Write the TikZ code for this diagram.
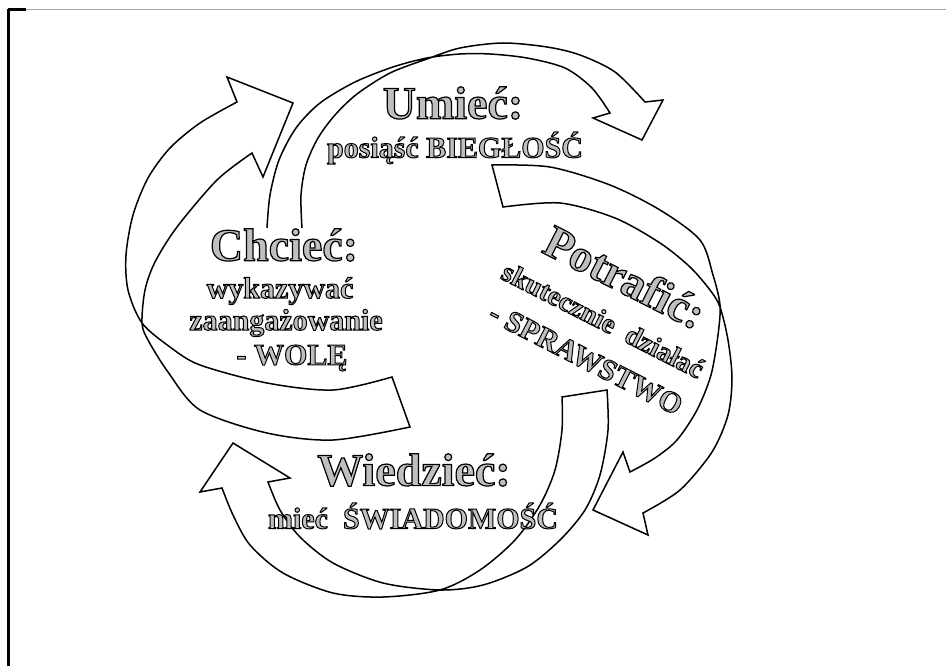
\documentclass[tikz,border=0pt]{standalone}
\usepackage{fontspec}
\setmainfont{Liberation Serif}

% gray letters with a black outline (fill and stroke text)
\newcommand{\hollow}[2][1]{{\color{gray!50}\special{pdf:literal direct 0 G #1 w 2 Tr}#2\special{pdf:literal direct 0 Tr}}}

\begin{document}
\begin{tikzpicture}[
        x=1pt, y=-1pt,
        ribbon/.style={line width=1.5pt, line join=miter},
        big/.style={font=\bfseries\fontsize{46}{46}\selectfont, inner sep=0pt},
        small/.style={font=\bfseries\fontsize{30}{30}\selectfont, inner sep=0pt}
    ]
    \useasboundingbox (0,0) rectangle (946,666);

    % Frame
    \draw[gray!70, line width=1.2pt] (8,9.5) -- (946,9.5);
    \draw[line width=2.2pt] (8.5,9) -- (8.5,666);
    \draw[line width=2.2pt] (8,9.5) -- (26,9.5);

    % Arrow over the top (Umiec)
    \draw[ribbon] plot[smooth] coordinates {(267,228) (270,195) (279,160) (296,128) (320,103) (355,82) (393,67) (427,58) (460,54) (490,54) (527,58) (565,68) (592,88) (610,113)}
        -- (593,118) -- (642,140) -- (663,100) -- (645,102)
        -- plot[smooth] coordinates {(645,102) (615,72) (580,55) (547,47) (503,43) (460,48) (427,59) (390,73) (357,94) (335,115) (318,138) (306,165) (301,195) (302,228)};

    % Arrow on the right (Potrafic)
    \draw[ribbon] plot[smooth] coordinates {(492,165) (550,167) (610,185) (660,210) (700,240) (713,275) (720,305) (718,335) (711,375) (697,410) (677,440) (655,458) (630,472)}
        -- (623,452) -- (593,510) -- (648,535) -- (643,513)
        -- plot[smooth] coordinates {(643,513) (680,490) (712,452) (728,415) (732,378) (728,340) (720,307) (710,290) (690,267) (660,243) (615,218) (560,203) (503,207)}
        -- cycle;

    % Arrow at the bottom (Wiedziec)
    \draw[ribbon] plot[smooth] coordinates {(562,397) (562,430) (555,470) (540,505) (515,540) (480,570) (440,590) (383,597) (333,593) (283,573) (250,545) (233,515) (222,488)}
        -- (200,492) -- (233,443) -- (290,478) -- (268,482)
        -- plot[smooth] coordinates {(268,482) (280,510) (300,537) (333,563) (383,583) (440,590) (483,585) (527,567) (560,540) (585,510) (600,475) (608,430) (607,390)}
        -- cycle;

    % Arrow on the left (Chciec)
    \draw[ribbon] plot[smooth] coordinates {(410,427) (333,440) (267,433) (200,410) (168,372) (148,340) (142,323) (145,290) (155,262) (177,227) (217,180) (252,153)}
        -- (263,177) -- (293,103) -- (227,77) -- (237,102)
        -- plot[smooth] coordinates {(237,102) (200,123) (170,148) (148,178) (133,215) (126,255) (128,290) (142,323) (170,347) (200,365) (267,383) (333,390) (392,377)}
        -- cycle;

    % Labels
    \node[big] (umiec) at (453,103) {\hollow[1.2]{Umieć:}};
    \node[small] (umiecsub) at (455,148) {\hollow{posiąść BIEGŁOŚĆ}};

    \node[big] (chciec) at (284,245) {\hollow[1.2]{Chcieć:}};
    \node[small] (chciec1) at (280,291) {\hollow{wykazywać}};
    \node[small] (chciec2) at (286,323) {\hollow{zaangażowanie}};
    \node[small] (chciec3) at (292,358) {\hollow{- WOLĘ}};

    \node[big, rotate=-27] (potrafic) at (625,277) {\hollow[1.2]{Potrafić:}};
    \node[small, rotate=-27, font=\bfseries\fontsize{28}{28}\selectfont] (potrafic1) at (603,320) {\hollow{skutecznie\ \ działać}};
    \node[small, rotate=-27] (potrafic2) at (586,359) {\hollow{- SPRAWSTWO}};

    \node[big] (wiedziec) at (414,470) {\hollow[1.2]{Wiedzieć:}};
    \node[small] (wiedziecsub) at (413,516) {\hollow{mieć\ \ ŚWIADOMOŚĆ}};

\end{tikzpicture}
\end{document}
